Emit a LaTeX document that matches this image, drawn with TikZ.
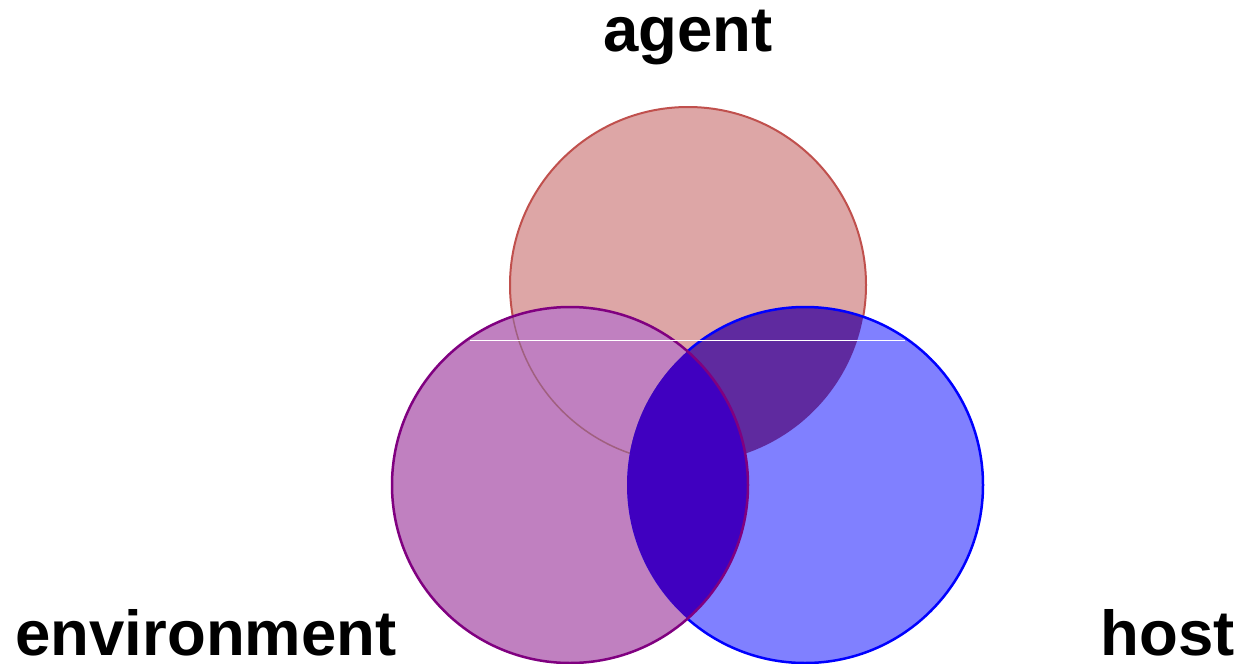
\documentclass[tikz,border=0pt]{standalone}
\usepackage{fontspec}
\setmainfont{Liberation Sans}
\definecolor{agentfill}{HTML}{DDA6A6}
\definecolor{agentline}{HTML}{C0504D}
\definecolor{envfill}{HTML}{C080C0}
\definecolor{envline}{HTML}{800080}
\definecolor{hostfill}{HTML}{8080FF}
\definecolor{hostline}{HTML}{0000FF}
\definecolor{ahfill}{HTML}{5F2A9F}
\definecolor{ehfill}{HTML}{4000C0}
\definecolor{faintline}{HTML}{A0607F}
\tikzset{
  lbl/.style={font=\fontsize{63.5}{63.5}\selectfont\bfseries, inner sep=0pt, anchor=base},
}
\begin{document}
\begin{tikzpicture}[x=1pt,y=-1pt]
\useasboundingbox (0,0) rectangle (1245,664);
\def\agentc{(688,285) circle (178pt)}
\def\envc{(570,485) circle (178pt)}
\def\hostc{(805,485) circle (178pt)}
% agent
\fill[agentfill] \agentc;
\draw[agentline, line width=2pt] \agentc;
% environment fill
\fill[envfill] \envc;
\begin{scope}
  \clip \envc;
  \draw[faintline, line width=1.5pt] \agentc;
\end{scope}
% host fill
\fill[hostfill] \hostc;
\begin{scope}
  \clip \hostc;
  \fill[ahfill] \agentc;
\end{scope}
% host outline outside environment
\begin{scope}[even odd rule]
  \clip (-10,-10) rectangle (1255,674) \envc;
  \draw[hostline, line width=2.5pt] \hostc;
\end{scope}
% environment-host lens
\begin{scope}
  \clip \hostc;
  \fill[ehfill] \envc;
\end{scope}
\draw[envline, line width=2.5pt] \envc;
% artifact line
\draw[white, line width=1pt] (470,340) -- (905,340);
% labels
\node[lbl] (agent) at (688,51) {agent};
\node[lbl] (environment) at (206,655) {environment};
\node[lbl] (host) at (1168,655) {host};
\end{tikzpicture}
\end{document}
